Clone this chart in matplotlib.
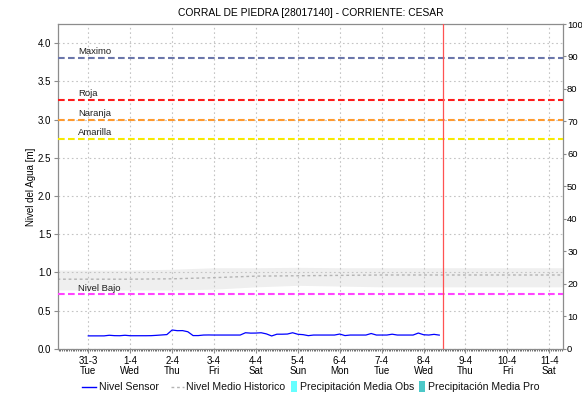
import matplotlib
matplotlib.use("Agg")
import matplotlib.pyplot as plt
import matplotlib.dates as mdates
import pandas as pd
from matplotlib.lines import Line2D
from matplotlib.patches import Rectangle
from matplotlib.offsetbox import (AnchoredOffsetbox, DrawingArea, HPacker,
                                  TextArea)

plt.rcParams['font.family'] = ['Liberation Sans', 'DejaVu Sans']

title = "CORRAL DE PIEDRA [28017140] - CORRIENTE: CESAR"
ylabel = "Nivel del Agua [m]"

# Sensor level [m], one reading every 3 hours starting 31-3 00:00
sensor_start = "2020-03-31 00:00"
sensor_level = [
    0.168, 0.168, 0.168, 0.168, 0.176, 0.171, 0.170, 0.176,   # 31-3
    0.170, 0.170, 0.170, 0.170, 0.171, 0.175, 0.180, 0.185,   # 1-4
    0.245, 0.236, 0.237, 0.222, 0.172, 0.172, 0.179, 0.180,   # 2-4
    0.179, 0.179, 0.179, 0.179, 0.179, 0.179, 0.209, 0.204,   # 3-4
    0.205, 0.209, 0.194, 0.167, 0.190, 0.190, 0.192, 0.209,   # 4-4
    0.189, 0.184, 0.171, 0.179, 0.179, 0.179, 0.179, 0.179,   # 5-4
    0.192, 0.172, 0.179, 0.179, 0.179, 0.179, 0.199, 0.179,   # 6-4
    0.179, 0.179, 0.190, 0.179, 0.179, 0.179, 0.179, 0.205,   # 7-4
    0.183, 0.179, 0.188, 0.178,                               # 8-4
]

# Historical mean level and its range, daily
hist_start = "2020-03-30"
hist_mean = [0.91, 0.91, 0.91, 0.915, 0.93, 0.95, 0.955, 0.96, 0.965, 0.965, 0.965, 0.965, 0.965, 0.965]
hist_upper = [1.03, 1.03, 1.03, 1.04, 1.06, 1.06, 1.065, 1.06, 1.06, 1.06, 1.06, 1.06, 1.06, 1.06]
hist_lower = [0.77, 0.77, 0.77, 0.77, 0.78, 0.81, 0.83, 0.82, 0.81, 0.81, 0.81, 0.81, 0.81, 0.81]

# Alert thresholds [m]
threshold_names = ["Maximo", "Roja", "Naranja", "Amarilla", "Nivel Bajo"]
threshold_values = [3.80, 3.26, 3.00, 2.75, 0.71]
threshold_colors = ["#6b76aa", "#ff1a1a", "#ff9a2e", "#f5ea00", "#ff44ff"]

now_time = "2020-04-08 11:20"
x_start, x_end = "2020-03-30 06:50", "2020-04-11 07:40"
day_ticks = pd.date_range("2020-03-31", "2020-04-11", freq="D")
day_names = ["Mon", "Tue", "Wed", "Thu", "Fri", "Sat", "Sun"]

legend_labels = ["Nivel Sensor", "Nivel Medio Historico",
                 "Precipitación Media Obs", "Precipitación Media Pro"]
sensor_color = "#0000ff"
hist_color = "#b4b4b4"
precip_obs_color = "#66ffff"
precip_pro_color = "#4cc8c8"

fig = plt.figure(figsize=(5.82, 4.03), dpi=100)
ax = fig.add_axes([0.1002, 0.1347, 0.8666, 0.8057])

grey = "#8c8c8c"
ymax = 4.25

# historical band and mean
hist_t = pd.date_range(hist_start, periods=len(hist_mean), freq="D")
ax.fill_between(hist_t, hist_lower, hist_upper, color="#efefef", lw=0, zorder=1)
ax.plot(hist_t, hist_mean, color=hist_color, lw=1.0, ls=(0, (2, 2)), zorder=2)

# thresholds
for name, val, col in zip(threshold_names, threshold_values, threshold_colors):
    ax.axhline(val, color=col, lw=1.5, dashes=(3.2, 1.6), zorder=3)
    ax.text(pd.Timestamp("2020-03-30 18:00"), val + 0.025, name, fontsize=6.8,
            color="#222222", va="bottom", ha="left", zorder=4)

# sensor series
sensor_t = pd.date_range(sensor_start, periods=len(sensor_level), freq="3h")
ax.plot(sensor_t, sensor_level, color=sensor_color, lw=0.9, zorder=5)

# current time marker
ax.axvline(pd.Timestamp(now_time), color="#ff5252", lw=0.9, zorder=6)

ax.set_xlim(pd.Timestamp(x_start), pd.Timestamp(x_end))
ax.set_ylim(0, ymax)
ax.set_yticks([0, 0.5, 1.0, 1.5, 2.0, 2.5, 3.0, 3.5, 4.0])
ax.yaxis.set_major_formatter(matplotlib.ticker.FormatStrFormatter("%.1f"))
ax.set_xticks(day_ticks)
ax.set_xticklabels([f"{d.day}-{d.month}\n{day_names[d.dayofweek]}" for d in day_ticks],
                   linespacing=1.05)
ax.xaxis.set_minor_locator(mdates.HourLocator(interval=1))

ax.grid(True, which="major", color="#c4c4c4", ls=(0, (1.5, 2.5)), lw=0.8)
ax.tick_params(axis="both", which="major", labelsize=7, length=3, width=0.8,
               color=grey, pad=2)
ax.tick_params(axis="x", which="minor", length=1.5, width=0.6, color="#555555")
for sp in ax.spines.values():
    sp.set_color(grey)
    sp.set_linewidth(0.9)
ax.set_ylabel(ylabel, fontsize=7, labelpad=1.5)
ax.set_title(title, fontsize=7.4, pad=6)

# precipitation axis on the right
ax2 = ax.twinx()
ax2.set_ylim(0, 100)
ax2.set_yticks(range(0, 101, 10))
ax2.tick_params(axis="y", labelsize=6.8, length=2.4, width=0.8, color=grey, pad=0.8)
for sp in ax2.spines.values():
    sp.set_visible(False)


# legend row along the bottom
def line_key(color, style, width=10.0):
    da = DrawingArea(width, 7, 0, 0)
    da.add_artist(Line2D([0, width], [3.5, 3.5], color=color, lw=1.0, ls=style))
    return da


def patch_key(color):
    da = DrawingArea(4.3, 7, 0, 0)
    da.add_artist(Rectangle((0, -0.5), 4.3, 8, facecolor=color, lw=0))
    return da


def gap(w):
    return DrawingArea(w, 1, 0, 0)


def label(s):
    return TextArea(s, textprops=dict(fontsize=7.6, color="#111111"))


items = [
    line_key(sensor_color, "-"), gap(2.0), label(legend_labels[0]), gap(8.6),
    line_key(hist_color, (0, (2, 2)), 9.4), gap(1.5), label(legend_labels[1]), gap(4.3),
    patch_key(precip_obs_color), gap(2.0), label(legend_labels[2]), gap(3.6),
    patch_key(precip_pro_color), gap(2.0), label(legend_labels[3]),
]
row = HPacker(children=items, align="center", pad=0, sep=0)
anchored = AnchoredOffsetbox(loc="center", child=row, pad=0, borderpad=0,
                             frameon=False, bbox_to_anchor=(0.5335, 0.04),
                             bbox_transform=fig.transFigure)
fig.add_artist(anchored)

fig.savefig("out.png", dpi=100)
